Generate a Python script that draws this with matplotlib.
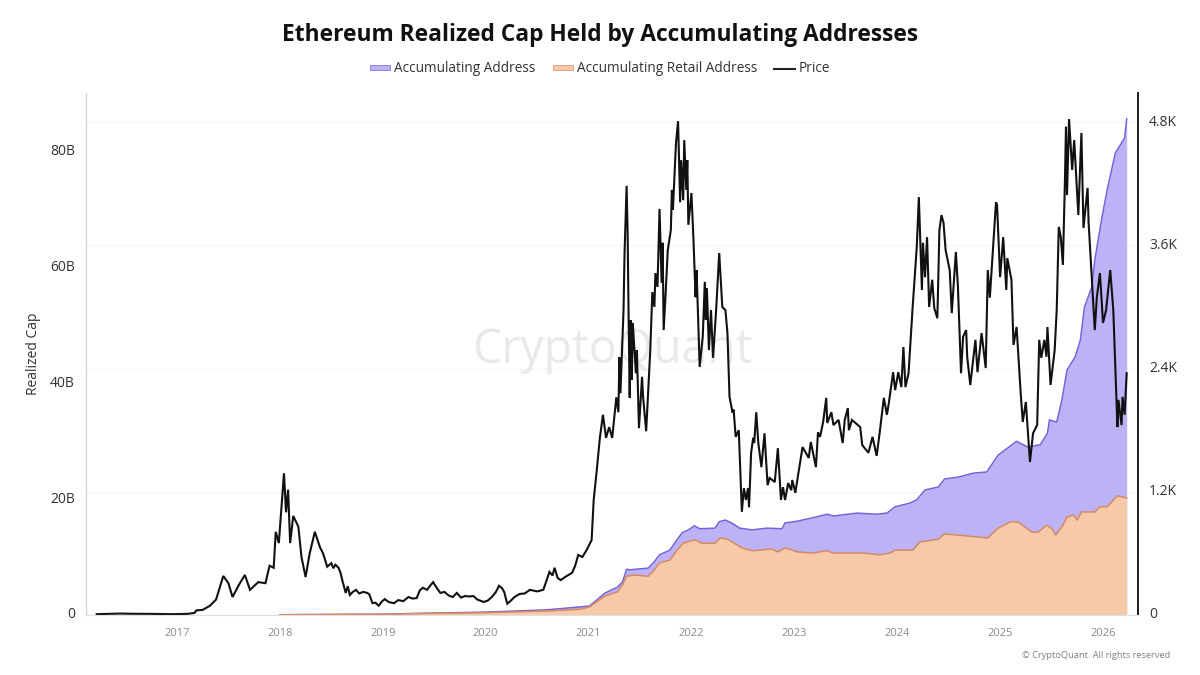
import matplotlib
matplotlib.use('Agg')
import matplotlib.pyplot as plt
from matplotlib.patches import Patch
from matplotlib.lines import Line2D
from matplotlib.transforms import ScaledTranslation

plt.rcParams['font.family'] = ['Open Sans', 'DejaVu Sans']

# price as (decimal year, USD)
price_years = [2016.22, 2016.35, 2016.45, 2016.55, 2016.75, 2016.95, 2017.10, 2017.17, 2017.19, 2017.25, 2017.32, 2017.38,
               2017.45, 2017.50, 2017.54, 2017.60, 2017.66, 2017.71, 2017.79, 2017.86, 2017.90, 2017.94, 2017.96, 2017.99,
               2018.04, 2018.06, 2018.08, 2018.10, 2018.13, 2018.18, 2018.21, 2018.25, 2018.29, 2018.34, 2018.39, 2018.42,
               2018.46, 2018.50, 2018.52, 2018.54, 2018.57, 2018.59, 2018.61, 2018.62, 2018.64, 2018.66, 2018.68, 2018.71,
               2018.74, 2018.77, 2018.81, 2018.85, 2018.87, 2018.90, 2018.93, 2018.96, 2018.99, 2019.02, 2019.06, 2019.11,
               2019.15, 2019.20, 2019.25, 2019.29, 2019.33, 2019.36, 2019.39, 2019.43, 2019.46, 2019.49, 2019.52, 2019.56,
               2019.60, 2019.64, 2019.68, 2019.72, 2019.76, 2019.80, 2019.84, 2019.88, 2019.92, 2019.98, 2020.02, 2020.06,
               2020.10, 2020.13, 2020.16, 2020.18, 2020.21, 2020.24, 2020.28, 2020.33, 2020.38, 2020.43, 2020.50, 2020.56,
               2020.59, 2020.62, 2020.65, 2020.67, 2020.70, 2020.73, 2020.78, 2020.84, 2020.87, 2020.90, 2020.94, 2020.98,
               2021.03, 2021.05, 2021.08, 2021.11, 2021.14, 2021.17, 2021.20, 2021.23, 2021.27, 2021.29, 2021.30, 2021.31,
               2021.34, 2021.35, 2021.37, 2021.38, 2021.39, 2021.40, 2021.41, 2021.42, 2021.43, 2021.46, 2021.47, 2021.49,
               2021.52, 2021.53, 2021.56, 2021.60, 2021.62, 2021.64, 2021.65, 2021.67, 2021.69, 2021.71, 2021.72, 2021.73,
               2021.75, 2021.77, 2021.80, 2021.81, 2021.82, 2021.85, 2021.87, 2021.89, 2021.90, 2021.92, 2021.93, 2021.95,
               2021.96, 2021.97, 2022.00, 2022.02, 2022.04, 2022.05, 2022.08, 2022.11, 2022.13, 2022.14, 2022.15, 2022.17,
               2022.19, 2022.21, 2022.24, 2022.27, 2022.30, 2022.33, 2022.35, 2022.37, 2022.40, 2022.41, 2022.43, 2022.46,
               2022.49, 2022.51, 2022.53, 2022.55, 2022.56, 2022.58, 2022.60, 2022.61, 2022.63, 2022.65, 2022.68, 2022.71,
               2022.74, 2022.76, 2022.81, 2022.84, 2022.87, 2022.89, 2022.91, 2022.94, 2022.97, 2022.98, 2023.01, 2023.04,
               2023.08, 2023.14, 2023.16, 2023.21, 2023.23, 2023.25, 2023.28, 2023.31, 2023.32, 2023.36, 2023.38, 2023.43,
               2023.47, 2023.49, 2023.52, 2023.53, 2023.56, 2023.64, 2023.66, 2023.72, 2023.76, 2023.80, 2023.83, 2023.87,
               2023.90, 2023.92, 2023.96, 2023.98, 2024.01, 2024.04, 2024.06, 2024.08, 2024.11, 2024.15, 2024.19, 2024.21,
               2024.24, 2024.25, 2024.27, 2024.29, 2024.31, 2024.34, 2024.36, 2024.39, 2024.41, 2024.43, 2024.45, 2024.47,
               2024.51, 2024.53, 2024.57, 2024.59, 2024.62, 2024.64, 2024.67, 2024.68, 2024.71, 2024.76, 2024.78, 2024.82,
               2024.86, 2024.88, 2024.90, 2024.96, 2024.97, 2025.00, 2025.03, 2025.06, 2025.07, 2025.11, 2025.13, 2025.16,
               2025.20, 2025.22, 2025.25, 2025.29, 2025.32, 2025.36, 2025.38, 2025.40, 2025.43, 2025.45, 2025.46, 2025.49,
               2025.53, 2025.55, 2025.57, 2025.59, 2025.61, 2025.63, 2025.64, 2025.65, 2025.67, 2025.70, 2025.72, 2025.76,
               2025.79, 2025.81, 2025.85, 2025.86, 2025.89, 2025.92, 2025.94, 2025.97, 2026.00, 2026.03, 2026.07, 2026.10,
               2026.14, 2026.15, 2026.18, 2026.19, 2026.21, 2026.23]
price_values = [8, 11, 14, 12, 11, 8, 11, 20, 45, 50, 90, 150,
                380, 310, 175, 290, 390, 245, 320, 310, 480, 460, 810, 700,
                1380, 1000, 1220, 700, 965, 860, 565, 370, 600, 810, 660, 600,
                470, 505, 455, 490, 460, 410, 325, 290, 215, 280, 195, 225,
                245, 210, 225, 215, 200, 115, 120, 90, 130, 155, 125, 115,
                145, 135, 175, 160, 165, 240, 265, 245, 285, 320, 270, 215,
                225, 190, 175, 215, 170, 185, 180, 185, 150, 127, 140, 175,
                225, 285, 260, 225, 110, 135, 175, 205, 210, 245, 230, 245,
                330, 420, 385, 460, 360, 340, 375, 410, 480, 585, 565, 630,
                730, 1120, 1410, 1725, 1950, 1725, 1830, 1725, 2120, 1975, 2510, 2160,
                2970, 3525, 4180, 3720, 2845, 2115, 2870, 2290, 2845, 2355, 2580, 1820,
                2320, 2125, 1790, 2580, 3145, 3000, 3330, 3195, 3955, 3235, 3625, 2775,
                3145, 3555, 3750, 4140, 3945, 4600, 4810, 4020, 4430, 4040, 4625, 4140,
                4430, 3800, 4110, 3650, 3095, 3360, 2415, 2710, 3245, 2875, 3185, 2580,
                2970, 2505, 2970, 3525, 3000, 2970, 2745, 2125, 1970, 2000, 1735, 1800,
                1005, 1235, 1120, 1235, 1050, 1580, 1725, 1675, 1975, 1675, 1440, 1770,
                1265, 1335, 1295, 1625, 1120, 1245, 1120, 1285, 1215, 1315, 1190, 1385,
                1635, 1530, 1685, 1440, 1780, 1735, 1880, 2115, 1870, 1975, 1850, 1900,
                1675, 1900, 2015, 1800, 1900, 1830, 1655, 1580, 1735, 1550, 1780, 2115,
                1950, 2075, 2365, 2190, 2365, 2220, 2610, 2220, 2355, 3000, 3585, 4070,
                3165, 3625, 3290, 3680, 3000, 3265, 2990, 2890, 3750, 3895, 3820, 3555,
                3360, 2940, 3535, 3195, 2355, 2710, 2775, 2515, 2240, 2680, 2365, 2745,
                2405, 3360, 3090, 4020, 3995, 3290, 3680, 3165, 3475, 3265, 2630, 2805,
                2160, 1880, 2075, 1490, 1770, 1850, 2680, 2505, 2680, 2515, 2805, 2240,
                2580, 2970, 3780, 3680, 3410, 4235, 4755, 4090, 4830, 4335, 4625, 3895,
                4695, 3770, 4160, 3820, 3290, 2775, 3095, 3330, 2845, 2970, 3360, 2970,
                1830, 2095, 1850, 2125, 1950, 2355]

# realized cap in billions
acc_years = [2018.00, 2019.00, 2019.40, 2020.00, 2020.60, 2020.92, 2021.01, 2021.08, 2021.16, 2021.28, 2021.33, 2021.37,
             2021.40, 2021.58, 2021.63, 2021.69, 2021.79, 2021.86, 2021.91, 2021.97, 2022.03, 2022.08, 2022.23, 2022.27,
             2022.33, 2022.39, 2022.47, 2022.59, 2022.73, 2022.88, 2022.91, 2023.03, 2023.18, 2023.32, 2023.38, 2023.61,
             2023.80, 2023.90, 2023.98, 2024.12, 2024.19, 2024.27, 2024.40, 2024.46, 2024.59, 2024.74, 2024.87, 2024.98,
             2025.07, 2025.16, 2025.27, 2025.39, 2025.46, 2025.48, 2025.55, 2025.60, 2025.65, 2025.73, 2025.78, 2025.82,
             2025.89, 2025.92, 2025.99, 2026.04, 2026.12, 2026.21, 2026.23]
acc_values = [0.05, 0.15, 0.3, 0.5, 0.9, 1.4, 1.55, 2.6, 3.8, 4.8, 5.7, 7.9,
              7.8, 8.1, 9.0, 10.4, 11.2, 13.0, 14.2, 14.7, 15.4, 14.9, 15.0, 16.1,
              16.4, 15.9, 15.0, 14.7, 15.0, 14.9, 15.9, 16.2, 16.8, 17.4, 17.1, 17.6,
              17.4, 17.6, 18.7, 19.3, 19.9, 21.6, 22.1, 23.5, 23.8, 24.5, 24.7, 27.6,
              28.8, 30.0, 29.0, 29.4, 31.4, 33.7, 33.3, 37.1, 42.3, 44.6, 47.5, 53.2,
              56.6, 61.3, 68.7, 73.4, 79.8, 82.4, 85.7]

retail_years = [2018.00, 2019.00, 2019.40, 2020.00, 2020.60, 2020.92, 2021.01, 2021.08, 2021.16, 2021.28, 2021.33, 2021.37,
                2021.45, 2021.58, 2021.63, 2021.69, 2021.79, 2021.86, 2021.92, 2022.03, 2022.10, 2022.23, 2022.28, 2022.35,
                2022.49, 2022.59, 2022.78, 2022.84, 2022.91, 2023.03, 2023.18, 2023.31, 2023.38, 2023.67, 2023.83, 2023.93,
                2023.98, 2024.15, 2024.22, 2024.40, 2024.46, 2024.59, 2024.88, 2024.98, 2025.10, 2025.17, 2025.31, 2025.37,
                2025.45, 2025.50, 2025.54, 2025.61, 2025.65, 2025.71, 2025.75, 2025.79, 2025.92, 2025.97, 2026.04, 2026.14,
                2026.18, 2026.23]
retail_values = [0.04, 0.12, 0.25, 0.4, 0.7, 1.0, 1.4, 2.3, 3.3, 4.0, 5.2, 6.7,
                 6.9, 6.7, 7.6, 9.0, 9.5, 11.2, 12.4, 13.0, 12.4, 12.4, 13.3, 13.1,
                 11.6, 11.1, 11.4, 10.9, 11.6, 10.9, 10.7, 11.1, 10.7, 10.7, 10.4, 10.7,
                 11.2, 11.2, 12.6, 13.1, 14.0, 13.8, 13.3, 15.0, 16.1, 16.1, 14.3, 14.3,
                 15.5, 15.0, 13.8, 15.5, 16.9, 17.3, 16.4, 17.8, 17.8, 18.7, 18.7, 20.6,
                 20.4, 20.2]

year_ticks = [2017, 2018, 2019, 2020, 2021, 2022, 2023, 2024, 2025, 2026]
left_ticks = [0, 20, 40, 60, 80]
left_labels = ['0', '20B', '40B', '60B', '80B']
right_ticks = [0, 1200, 2400, 3600, 4800]
right_labels = ['0', '1.2K', '2.4K', '3.6K', '4.8K']

purple_fill = '#bcb3f6'
purple_line = '#7263d8'
orange_fill = '#f6c9a8'
orange_line = '#d98a5f'
cap_top = 90.15
price_top = 5084

fig = plt.figure(figsize=(12, 6.75), dpi=100)
ax = fig.add_axes([86/1200, 1-615/675, (1138-86)/1200, (615-93)/675])
ax2 = ax.twinx()

# watermark sits under everything
ax.text(612/1200, 1-350/675, 'CryptoQuant', transform=fig.transFigure, fontsize=33.5, fontweight='medium',
        color='#e9e9e9', ha='center', va='center', zorder=1)

# faint gridlines follow the price axis
for t in right_ticks[1:]:
    ax.axhline(t*cap_top/price_top, color='#f5f5f5', lw=1, zorder=0.5)

ax.fill_between(acc_years, acc_values, color=purple_fill, lw=0, zorder=2)
ax.plot(acc_years, acc_values, color=purple_line, lw=1.1, zorder=3)
ax.fill_between(retail_years, retail_values, color=orange_fill, lw=0, zorder=4)
ax.plot(retail_years, retail_values, color=orange_line, lw=1.1, zorder=5)
ax2.plot(price_years, price_values, color='#111111', lw=1.5, solid_joinstyle='miter')

ax.set_xlim(2016.116, 2026.34)
ax.set_ylim(0, cap_top)
ax2.set_ylim(0, price_top)

ax.set_xticks(year_ticks)
ax.set_xticklabels(year_ticks, color='#8a8a8a', fontsize=8)
ax.tick_params(axis='x', length=0, pad=9)
ax.set_yticks(left_ticks)
ax.set_yticklabels(left_labels, color='#333333', fontsize=10)
ax.tick_params(axis='y', length=0, pad=8)
ax.set_ylabel('Realized Cap', fontsize=10, color='#333333')
ax.yaxis.set_label_coords(-0.0425, 0.50)

ax2.set_yticks(right_ticks)
ax2.set_yticklabels(right_labels, color='#333333', fontsize=10)
ax2.tick_params(axis='y', length=0, pad=8)

# the value labels sit a little above their positions in the original
up = ScaledTranslation(0, 2/100, fig.dpi_scale_trans)
for lab in ax.get_yticklabels() + ax2.get_yticklabels():
    lab.set_transform(lab.get_transform() + up)

for a in [ax, ax2]:
    a.spines['top'].set_visible(False)
    a.spines['left'].set_color('#d4d4d4')
    a.spines['bottom'].set_color('#e0e0e0')
    a.spines['right'].set_color('#222222')
    a.spines['right'].set_linewidth(1.3)
ax2.patch.set_visible(False)

fig.text(600/1200, 1-35/675, 'Ethereum Realized Cap Held by Accumulating Addresses', fontsize=16.4,
         fontweight='bold', color='#111111', ha='center', va='center')
fig.text(1170/1200, 1-656/675, '\u00a9 CryptoQuant. All rights reserved', fontsize=6.7, color='#808080',
         ha='right', va='center')

handles = [Patch(facecolor=purple_fill, edgecolor=purple_line, lw=0.5),
           Patch(facecolor=orange_fill, edgecolor=orange_line, lw=0.5),
           Line2D([0], [0], color='#222222', lw=1.5)]
fig.legend(handles, ['Accumulating Address', 'Accumulating Retail Address', 'Price'],
           loc='center', bbox_to_anchor=(600/1200, 1-69/675), ncol=3, frameon=False, fontsize=9.8,
           handlelength=1.5, handleheight=0.25, handletextpad=0.3, columnspacing=1.25, labelcolor='#333333')

fig.savefig('out.png', dpi=100)
